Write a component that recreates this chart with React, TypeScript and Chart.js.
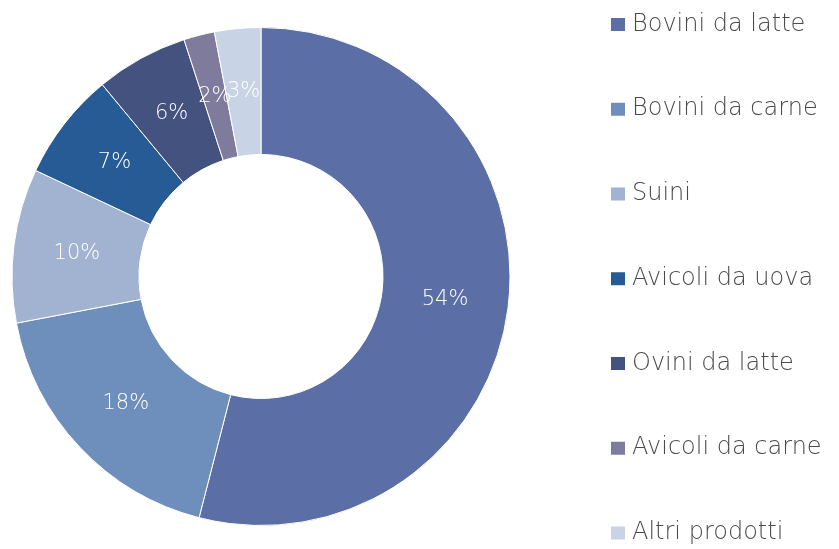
import React, { useEffect, useRef } from "react";
import { Chart, registerables } from "chart.js";

Chart.register(...registerables);

const categories = [
  "Bovini da latte",
  "Bovini da carne",
  "Suini",
  "Avicoli da uova",
  "Ovini da latte",
  "Avicoli da carne",
  "Altri prodotti",
];
const shares = [54, 18, 10, 7, 6, 2, 3];
const colors = ["#5B6FA6", "#6E8FBC", "#A2B3D2", "#275B95", "#43527F", "#7F7B9C", "#C8D3E5"];

const FONT = "'DejaVu Sans', sans-serif";

const labelPlugin = {
  id: "sliceLabels",
  afterDatasetsDraw(chart: any) {
    const ctx = chart.ctx;
    const meta = chart.getDatasetMeta(0);
    ctx.save();
    ctx.fillStyle = "#FFFFFF";
    ctx.font = `200 21px ${FONT}`;
    ctx.textAlign = "center";
    ctx.textBaseline = "middle";
    meta.data.forEach((arc: any, i: number) => {
      const p = arc.tooltipPosition();
      ctx.fillText(`${shares[i]}%`, p.x, p.y);
    });
    ctx.restore();
  },
};

const legendPlugin = {
  id: "sideLegend",
  afterDraw(chart: any) {
    const ctx = chart.ctx;
    ctx.save();
    ctx.font = `200 24px ${FONT}`;
    ctx.textAlign = "left";
    ctx.textBaseline = "middle";
    const x0 = 611;
    const y0 = 24.5;
    const step = 84.75;
    categories.forEach((c, i) => {
      const cy = y0 + i * step;
      ctx.fillStyle = colors[i];
      ctx.fillRect(x0, cy - 6.5, 14, 13);
      ctx.fillStyle = "#4A4A4A";
      ctx.fillText(c, x0 + 21, cy);
    });
    ctx.restore();
  },
};

export default function App() {
  const ref = useRef<HTMLCanvasElement | null>(null);
  useEffect(() => {
    document.body.style.margin = "0";
    const chart = new Chart(ref.current as HTMLCanvasElement, {
      type: "doughnut",
      data: {
        labels: categories,
        datasets: [
          {
            data: shares,
            backgroundColor: colors,
            borderColor: "#FFFFFF",
            borderWidth: 1,
          },
        ],
      },
      options: {
        responsive: false,
        animation: false,
        cutout: "49%",
        layout: { padding: { top: 27, bottom: 23, left: 11, right: 328 } },
        plugins: {
          legend: { display: false },
          tooltip: { enabled: false },
        },
      },
      plugins: [labelPlugin, legendPlugin],
    });
    return () => chart.destroy();
  }, []);
  return (
    <div style={{ width: 839, height: 549, background: "#fff" }}>
      <canvas ref={ref} width={839} height={549} />
    </div>
  );
}
